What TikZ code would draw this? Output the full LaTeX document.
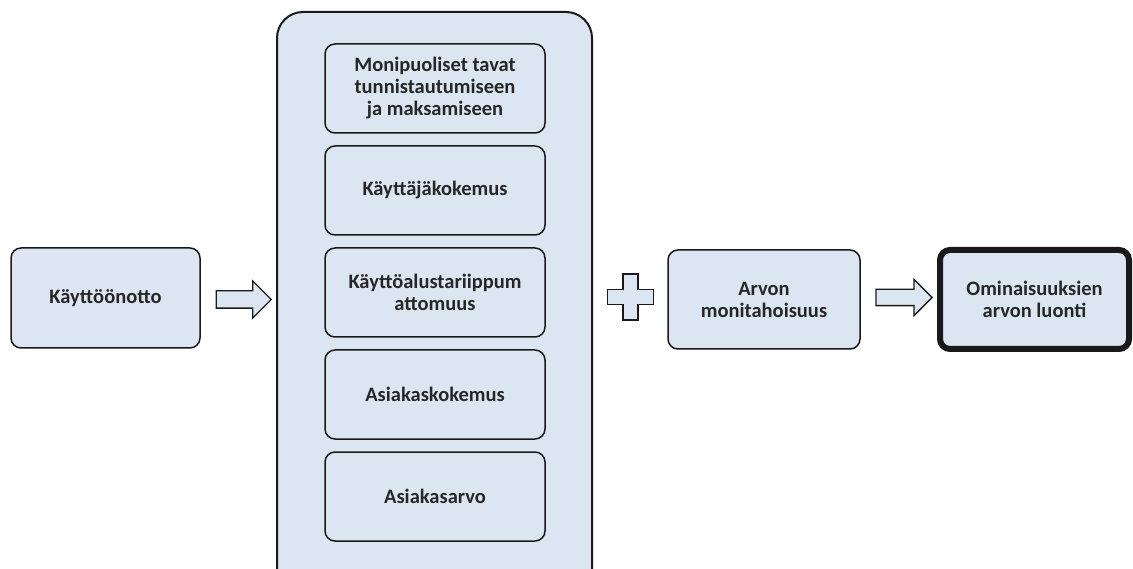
\documentclass[tikz,border=0pt]{standalone}
\usepackage{fontspec}
\setmainfont{Carlito}
\usetikzlibrary{positioning,shapes.arrows}

\definecolor{boxblue}{RGB}{220,230,242}
\definecolor{boxline}{RGB}{25,25,25}

\begin{document}
\begin{tikzpicture}[x=1pt,y=-1pt,
			% Define styles for nodes
			every node/.style={font=\fontsize{20.5}{22}\selectfont\bfseries, align=center, text=black!85},
			stepbox/.style={draw=boxline, fill=boxblue, line width=1.5pt, rounded corners=10pt, inner sep=0pt},
			innerbox/.style={stepbox, minimum width=220pt, minimum height=89pt},
			blockarrow/.style={single arrow, draw=boxline, fill=boxblue, line width=1.3pt, inner sep=8pt,
					minimum width=35pt, single arrow head extend=10pt}
		]
		\clip (0,0) rectangle (1133,569);

		% Container
		\node[stepbox, line width=2pt, rounded corners=26pt, minimum width=315pt, minimum height=640pt]
			(group) at (434.5,332) {};

		% Inner boxes
		\node[innerbox] (kanavat) at (435,88.5) {Monipuoliset tavat\\tunnistautumiseen\\ja maksamiseen};
		\node[innerbox, below=11.5pt of kanavat] (kokemus) {Käyttäjäkokemus};
		\node[innerbox, below=11.5pt of kokemus] (alusta) {Käyttöalustariippum\\attomuus};
		\node[innerbox, below=11.5pt of alusta] (asiakas) {Asiakaskokemus};
		\node[innerbox, below=11.5pt of asiakas] (arvo) {Asiakasarvo};

		% Left and right boxes
		\node[stepbox, minimum width=189pt, minimum height=100pt] (kaytto) at (105.5,298) {Käyttöönotto};
		\node[stepbox, minimum width=192pt, minimum height=99pt] (monit) at (764,299.5) {Arvon\\monitahoisuus};
		\node[stepbox, line width=6pt, minimum width=189pt, minimum height=99pt] (omin) at (1034.5,299.5) {Ominaisuuksien\\arvon luonti};

		% Arrows
		\node[blockarrow, minimum height=55pt] (nuoli1) at (239.5,299.5) {};
		\node[blockarrow, minimum height=56pt, inner sep=7.5pt] (nuoli2) at (900,297.5) {};

		% Plus sign
		\coordinate (plus) at (630.5,297);
		\draw[boxline, fill=boxblue, line width=1.2pt]
			(plus) ++(-7.5,-23) -- ++(15,0) -- ++(0,15.5) -- ++(15.5,0) -- ++(0,15) -- ++(-15.5,0)
			-- ++(0,15.5) -- ++(-15,0) -- ++(0,-15.5) -- ++(-15.5,0) -- ++(0,-15) -- ++(15.5,0) -- cycle;
	\end{tikzpicture}
\end{document}
